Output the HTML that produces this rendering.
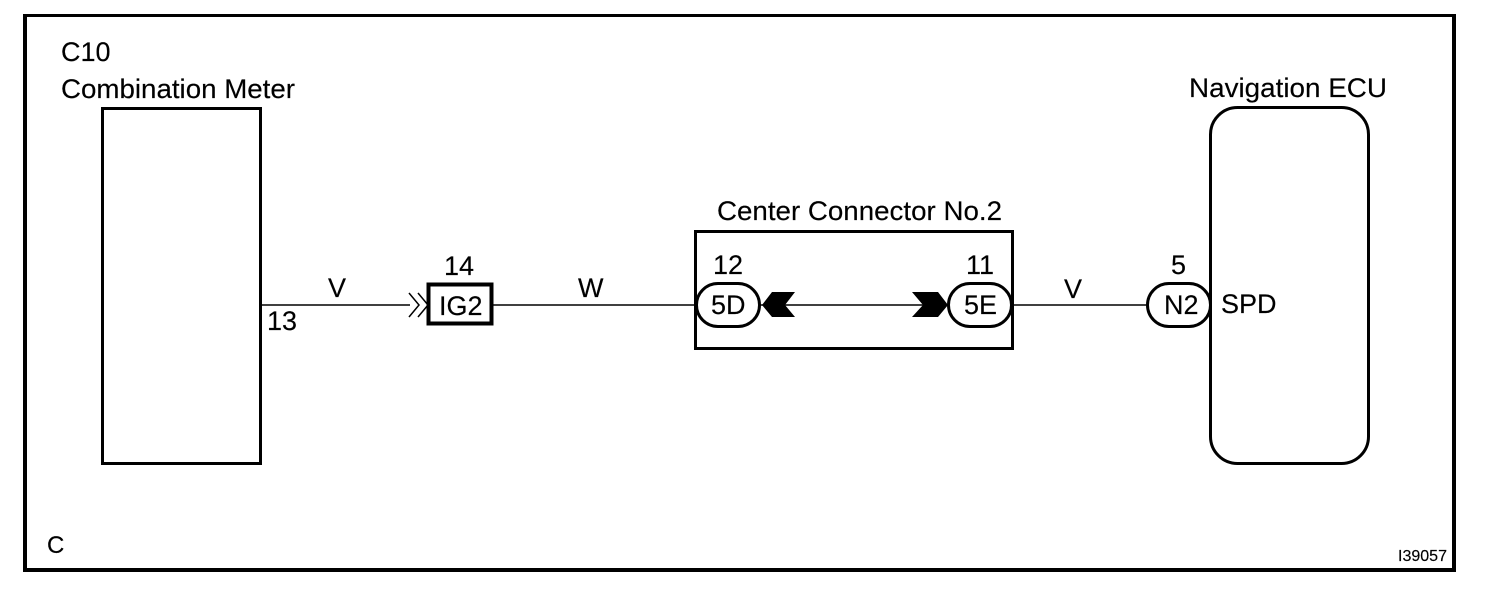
<!DOCTYPE html>
<html><head><meta charset="utf-8"><style>
html,body{margin:0;padding:0;background:#fff;width:1504px;height:604px;overflow:hidden}
svg{display:block}
text{font-family:"Liberation Sans",sans-serif;font-size:27px;fill:#000;stroke:#000;stroke-width:.15}
</style></head><body>
<svg width="1504" height="604" viewBox="0 0 1504 604" xmlns="http://www.w3.org/2000/svg">
<rect width="1504" height="604" fill="#fff"/>
<g fill="none" stroke="#000">
<path d="M23 15.500H1456" stroke-width="3"/>
<path d="M25 14V572M1454 14V572M23 570H1456" stroke-width="4"/>
<rect x="102.500" y="108.500" width="158" height="355" stroke-width="3"/>
<rect x="1210.500" y="107.500" width="158" height="356" rx="27" ry="27" stroke-width="3"/>
<path d="M262 305H410M493 305H695M760 305H948M1012 305H1146" stroke-width="1.500"/>
<rect x="428.500" y="284.500" width="63" height="39" stroke-width="4"/>
<rect x="695.500" y="231.500" width="317" height="117" stroke-width="3"/>
<rect x="696.500" y="283.500" width="63" height="43" rx="21.500" stroke-width="3" fill="#fff"/>
<rect x="948.500" y="283.500" width="63" height="43" rx="21.500" stroke-width="3" fill="#fff"/>
<rect x="1147.500" y="283.500" width="63" height="43" rx="21.500" stroke-width="3" fill="#fff"/>
<path d="M409 293L419 305L409 317M418 293L428 305L418 317" stroke-width="1.500"/>
</g>
<polygon points="762,305 772,292 795,292 785,305 795,317 772,317" fill="#000"/>
<polygon points="912,292 938,292 948,305 938,317 912,317 923,305" fill="#000"/>
<text x="61" y="61">C10</text>
<text x="61" y="98" textLength="234" lengthAdjust="spacingAndGlyphs">Combination Meter</text>
<text x="1189" y="97" textLength="198" lengthAdjust="spacingAndGlyphs">Navigation ECU</text>
<text x="717" y="220" textLength="285" lengthAdjust="spacingAndGlyphs">Center Connector No.2</text>
<text x="328" y="297">V</text>
<text x="267" y="330">13</text>
<text x="444" y="275">14</text>
<text x="439" y="315">IG2</text>
<text x="578" y="297">W</text>
<text x="713" y="274">12</text>
<text x="711" y="314">5D</text>
<text x="966" y="274">11</text>
<text x="964" y="314">5E</text>
<text x="1064" y="298">V</text>
<text x="1171" y="274">5</text>
<text x="1164" y="314">N2</text>
<text x="1221" y="313">SPD</text>
<text x="47" y="553" style="font-size:24px">C</text>
<text x="1398" y="561" style="font-size:16px" textLength="49" lengthAdjust="spacingAndGlyphs">I39057</text>
</svg>
</body></html>
